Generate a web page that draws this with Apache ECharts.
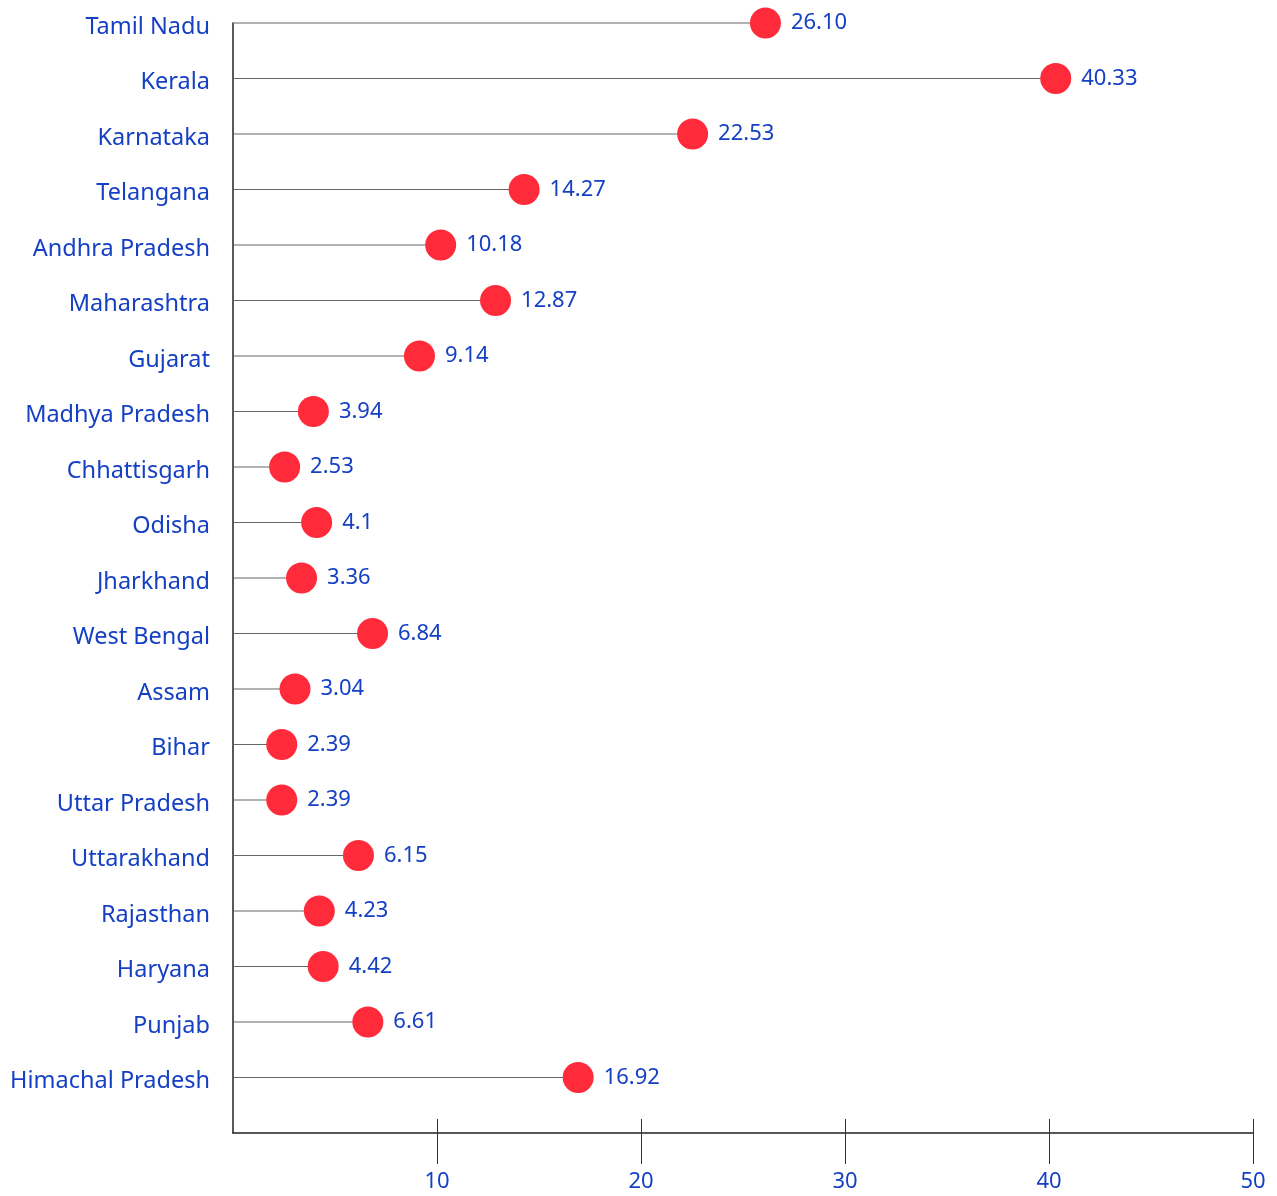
<!DOCTYPE html>
<html lang="en">
<head>
    <meta charset="UTF-8">
    <title>Lollipop chart</title>
    <script src="https://cdn.jsdelivr.net/npm/echarts@6/dist/echarts.min.js"></script>
</head>
<body style="margin:0">
    <div id="main" style="height: 1196px; width: 1277px"></div>
    <script type="text/javascript">
        var states = ['Tamil Nadu', 'Kerala', 'Karnataka', 'Telangana', 'Andhra Pradesh',
            'Maharashtra', 'Gujarat', 'Madhya Pradesh', 'Chhattisgarh', 'Odisha',
            'Jharkhand', 'West Bengal', 'Assam', 'Bihar', 'Uttar Pradesh',
            'Uttarakhand', 'Rajasthan', 'Haryana', 'Punjab', 'Himachal Pradesh'];
        var values = [26.10, 40.33, 22.53, 14.27, 10.18, 12.87, 9.14, 3.94, 2.53, 4.1,
            3.36, 6.84, 3.04, 2.39, 2.39, 6.15, 4.23, 4.42, 6.61, 16.92];
        var labels = ['26.10', '40.33', '22.53', '14.27', '10.18', '12.87', '9.14', '3.94', '2.53', '4.1',
            '3.36', '6.84', '3.04', '2.39', '2.39', '6.15', '4.23', '4.42', '6.61', '16.92'];
        var xTicks = [10, 20, 30, 40, 50];

        var blue = '#1540c4';
        var font = 'Noto Sans';

        // points: [value, row index]
        var points = values.map(function (v, i) { return [v, i]; });

        var option = {
            animation: false,
            textStyle: { fontFamily: font },
            grid: { left: 233, right: 24, top: 23, bottom: 63 },
            xAxis: [{
                type: 'value',
                min: 0,
                max: 50,
                interval: 10,
                splitLine: { show: false },
                axisLine: { show: true, onZero: false, lineStyle: { color: '#222', width: 1.5 } },
                axisTick: { show: true, inside: true, length: 14, customValues: xTicks, lineStyle: { color: '#333' } },
                axisLabel: { customValues: xTicks, color: blue, fontSize: 22, fontFamily: font, margin: 38 }
            }, {
                type: 'value',
                position: 'bottom',
                min: 0,
                max: 50,
                interval: 10,
                splitLine: { show: false },
                axisLine: { show: false, onZero: false },
                axisTick: { show: true, inside: false, length: 31, customValues: xTicks, lineStyle: { color: '#333' } },
                axisLabel: { show: false }
            }],
            yAxis: {
                type: 'value',
                inverse: true,
                min: 0,
                max: 20,
                interval: 1,
                splitLine: { show: false },
                axisTick: { show: false },
                axisLine: { show: true, onZero: false, lineStyle: { color: '#222', width: 1.5 } },
                axisLabel: {
                    color: blue,
                    fontSize: 23.5,
                    fontFamily: font,
                    margin: 23,
                    verticalAlign: 'top',
                    lineHeight: 28,
                    padding: [-10, 0, 0, 0],
                    formatter: function (v) { return states[v] || ''; }
                }
            },
            series: [{
                type: 'custom',
                data: points,
                renderItem: function (params, api) {
                    var start = api.coord([0, api.value(1)]);
                    var end = api.coord([api.value(0), api.value(1)]);
                    return {
                        type: 'line',
                        shape: { x1: start[0], y1: start[1], x2: end[0], y2: end[1] },
                        style: { stroke: '#666', lineWidth: 1.2 }
                    };
                },
                z: 1
            }, {
                type: 'scatter',
                data: points,
                symbolSize: 31,
                itemStyle: { color: '#ff2a3a', opacity: 1 },
                label: {
                    show: true,
                    position: 'right',
                    distance: 10,
                    color: blue,
                    fontSize: 22,
                    fontFamily: font,
                    formatter: function (p) { return labels[p.dataIndex]; }
                },
                z: 2
            }]
        };

        var myChart = echarts.init(document.getElementById('main'));
        myChart.setOption(option);
    </script>
</body>
</html>
